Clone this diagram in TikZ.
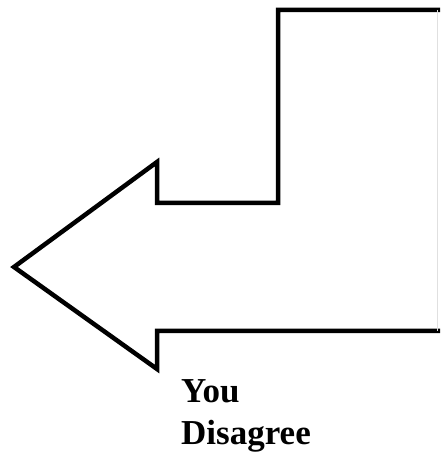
\documentclass[tikz,border=0pt]{standalone}
\usepackage{fontspec}
\setmainfont{Liberation Serif}
\begin{document}
\begin{tikzpicture}[x=1pt, y=1pt, line join=miter]
    \useasboundingbox (0,0) rectangle (440,452);
    \coordinate (T1) at (440,442);
    \coordinate (T2) at (278,442);
    \coordinate (C1) at (278,249);
    \coordinate (C2) at (157,249);
    \coordinate (B1) at (157,290);
    \coordinate (tip) at (14,185);
    \coordinate (B2) at (157,83);
    \coordinate (C3) at (157,121);
    \coordinate (T3) at (440,121);
    \draw[line width=4.5pt] (T1) -- (T2) -- (C1) -- (C2) -- (B1) -- (tip) -- (B2) -- (C3) -- (T3);
    \draw[black!12, line width=1pt] (437,442) -- (437,121);
    \node[anchor=base west, inner sep=0pt, align=left, font=\fontsize{35}{42}\selectfont\bfseries] (label) at (181,8) {You\\Disagree};
\end{tikzpicture}
\end{document}
